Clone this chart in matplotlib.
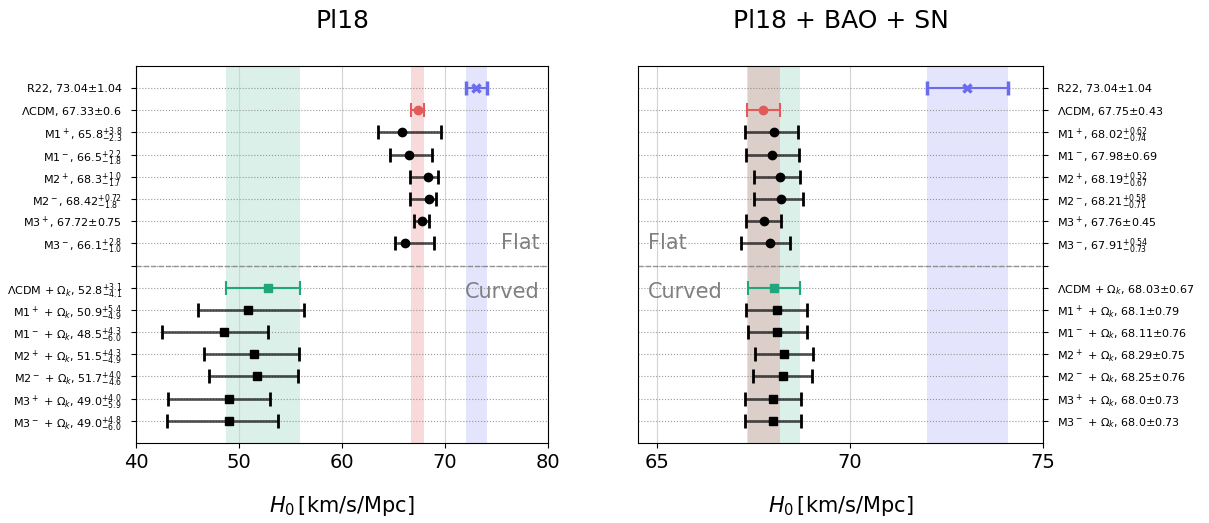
import matplotlib.pyplot as plt

# ---- Pl18 only ----
names = ["R22", r"$\Lambda$CDM",
         "M1$^+$", "M1$^-$", "M2$^+$", "M2$^-$", "M3$^+$", "M3$^-$"]
names_k = [r"$\Lambda$CDM + $\Omega_k$",
           r"M1$^+$ + $\Omega_k$", r"M1$^-$ + $\Omega_k$",
           r"M2$^+$ + $\Omega_k$", r"M2$^-$ + $\Omega_k$",
           r"M3$^+$ + $\Omega_k$", r"M3$^-$ + $\Omega_k$"]

pl_flat = [73.04, 67.33, 65.8, 66.5, 68.3, 68.42, 67.72, 66.1]
pl_flat_up = [1.04, 0.6, 3.8, 2.2, 1.0, 0.72, 0.75, 2.8]
pl_flat_lo = [1.04, 0.6, 2.3, 1.8, 1.7, 1.8, 0.75, 1.0]
pl_curv = [52.8, 50.9, 48.5, 51.5, 51.7, 49.0, 49.0]
pl_curv_up = [3.1, 5.4, 4.3, 4.3, 4.0, 4.0, 4.8]
pl_curv_lo = [4.1, 4.9, 6.0, 4.9, 4.6, 5.9, 6.0]

# ---- Pl18 + BAO + SN ----
all_flat = [73.04, 67.75, 68.02, 67.98, 68.19, 68.21, 67.76, 67.91]
all_flat_up = [1.04, 0.43, 0.62, 0.69, 0.52, 0.58, 0.45, 0.54]
all_flat_lo = [1.04, 0.43, 0.74, 0.69, 0.67, 0.71, 0.45, 0.73]
all_curv = [68.03, 68.1, 68.11, 68.29, 68.25, 68.0, 68.0]
all_curv_up = [0.67, 0.79, 0.76, 0.75, 0.76, 0.73, 0.73]
all_curv_lo = [0.67, 0.79, 0.76, 0.75, 0.76, 0.73, 0.73]

c_r22 = "#6b6bef"
c_lcdm = "#e35a5a"
c_k = "#1fa67a"


def lab(name, v, up, lo):
    if up == lo:
        return f"{name}, {v}±{up}"
    return f"{name}, {v}$^{{+{up}}}_{{-{lo}}}$"


def panel(ax, flat, fu, fl, curv, cu, cl, xlim, title, text_x, text_ha):
    vals = flat + [None] + curv
    ups = fu + [None] + cu
    los = fl + [None] + cl
    nm = names + [""] + names_k
    ypos = list(range(len(vals)))

    # reference bands: R22, flat LCDM, curved LCDM
    ax.axvspan(flat[0] - fl[0], flat[0] + fu[0], color=c_r22, alpha=0.18, lw=0, zorder=0)
    ax.axvspan(curv[0] - cl[0], curv[0] + cu[0], color=c_k, alpha=0.16, lw=0, zorder=0)
    ax.axvspan(flat[1] - fl[1], flat[1] + fu[1], color=c_lcdm, alpha=0.22, lw=0, zorder=0)

    labels = []
    for i, (v, u, l, n) in enumerate(zip(vals, ups, los, nm)):
        if v is None:
            labels.append("")
            continue
        labels.append(lab(n, v, u, l))
        if i == 0:
            ax.errorbar(v, i, xerr=[[l], [u]], fmt="x", color=c_r22, ms=6, mew=2.5,
                        capsize=5, elinewidth=1.5, capthick=1.5, zorder=3)
        elif i == 1:
            ax.errorbar(v, i, xerr=[[l], [u]], fmt="o", color=c_lcdm, ms=6,
                        capsize=5, elinewidth=1.5, capthick=1.5, zorder=3)
        elif i == 9:
            ax.errorbar(v, i, xerr=[[l], [u]], fmt="s", color=c_k, ms=6,
                        capsize=5, elinewidth=1.5, capthick=1.5, zorder=3)
        else:
            eb = ax.errorbar(v, i, xerr=[[l], [u]], fmt="o" if i < 8 else "s",
                             color="k", ms=6, capsize=5, elinewidth=2, capthick=2, zorder=3)
            eb[2][0].set_alpha(0.65)

    ax.axhline(8, color="gray", ls="--", lw=1, alpha=0.8)
    ax.set_yticks(ypos)
    ax.set_yticklabels(labels, fontsize=8)
    ax.set_ylim(16, -1)
    ax.set_xlim(*xlim)
    ax.grid(axis="y", ls=":", color="gray", lw=0.8, alpha=0.8)
    ax.grid(axis="x", ls="-", color="lightgray", lw=0.8)
    ax.tick_params(axis="x", labelsize=14)
    ax.tick_params(axis="y", pad=6.5)
    ax.set_xlabel(r"$H_0\,$[km/s/Mpc]", fontsize=15, labelpad=16)
    ax.set_title(title, fontsize=18, pad=27)
    ax.text(text_x, 7, "Flat", color="gray", fontsize=15, ha=text_ha, va="center")
    ax.text(text_x, 9.2, "Curved", color="gray", fontsize=15, ha=text_ha, va="center")


fig = plt.figure(figsize=(12.09, 5.23), dpi=100)
ax1 = fig.add_axes([0.1125, 0.153, 0.3408, 0.721])
ax2 = fig.add_axes([0.5277, 0.153, 0.335, 0.721])

panel(ax1, pl_flat, pl_flat_up, pl_flat_lo, pl_curv, pl_curv_up, pl_curv_lo,
      (40, 80), "Pl18", 79.2, "right")
panel(ax2, all_flat, all_flat_up, all_flat_lo, all_curv, all_curv_up, all_curv_lo,
      (64.5, 75), "Pl18 + BAO + SN", 64.75, "left")
ax1.set_xticks([40, 50, 60, 70, 80])
ax2.set_xticks([65, 70, 75])
ax2.yaxis.tick_right()

fig.savefig("out.png", dpi=100)
